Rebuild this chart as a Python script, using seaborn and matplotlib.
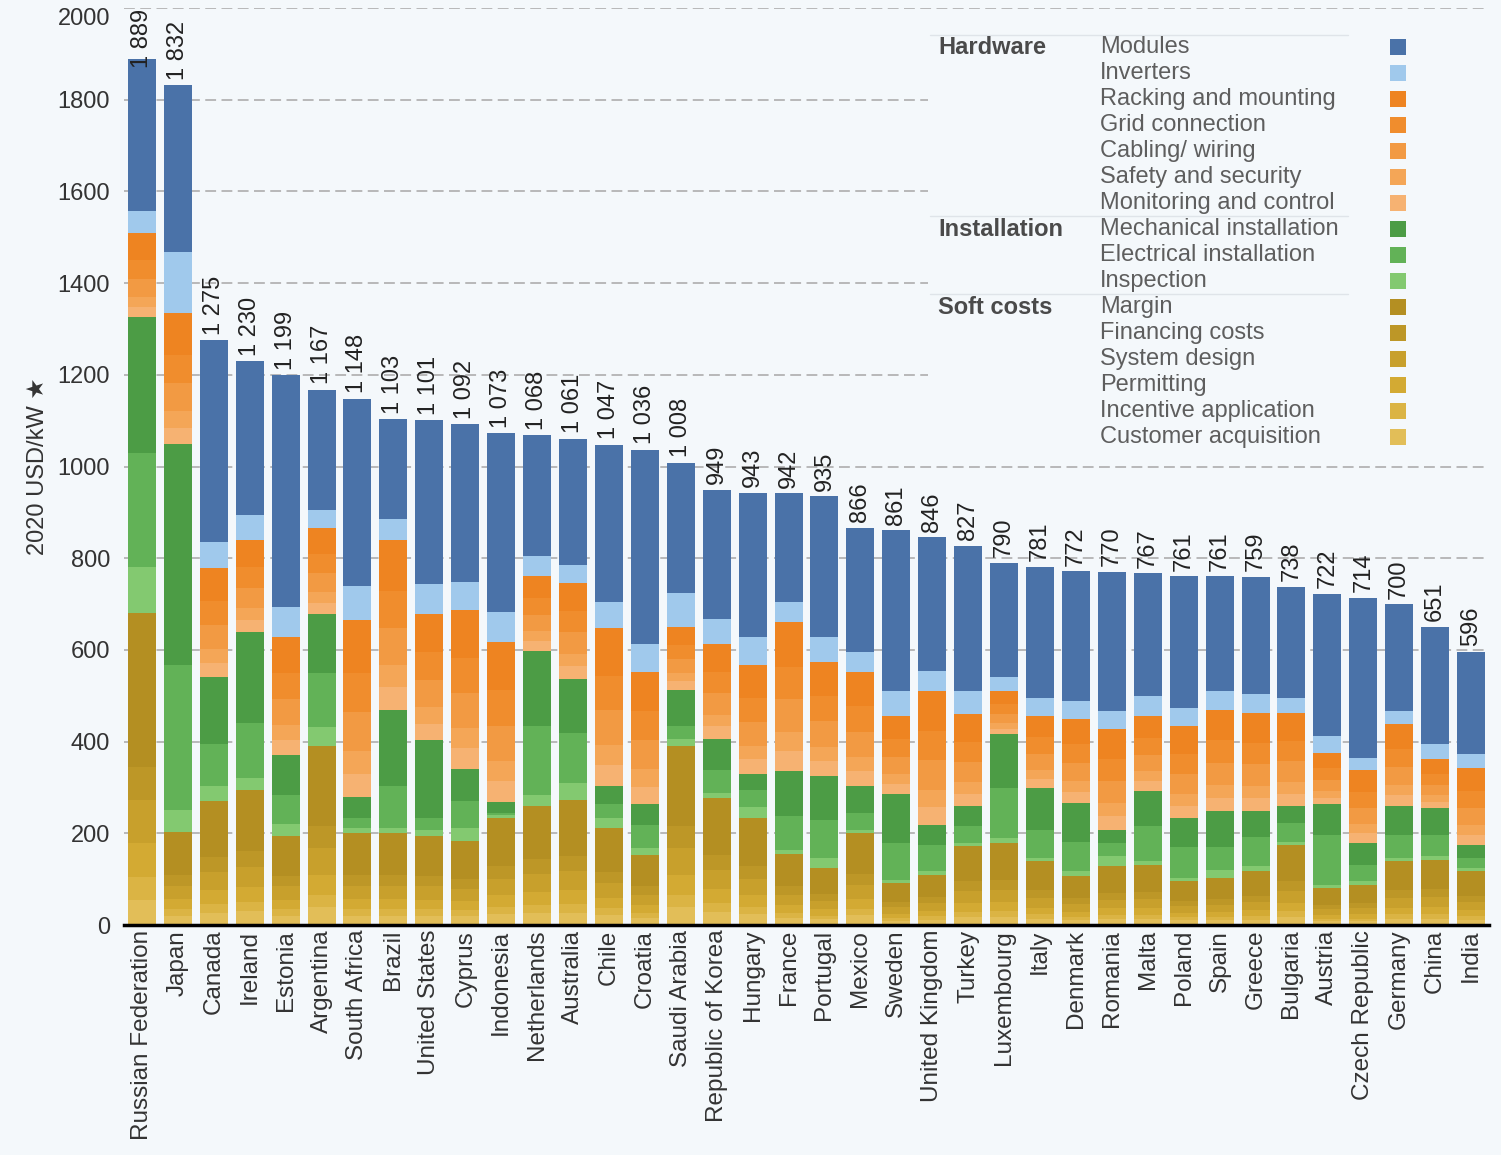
import numpy as np
import pandas as pd
import matplotlib
matplotlib.use("Agg")
import matplotlib.pyplot as plt
import seaborn as sns
from matplotlib.patches import Rectangle

countries = ["Russian Federation", "Japan", "Canada", "Ireland", "Estonia", "Argentina",
             "South Africa", "Brazil", "United States", "Cyprus", "Indonesia", "Netherlands",
             "Australia", "Chile", "Croatia", "Saudi Arabia", "Republic of Korea", "Hungary",
             "France", "Portugal", "Mexico", "Sweden", "United Kingdom", "Turkey", "Luxembourg",
             "Italy", "Denmark", "Romania", "Malta", "Poland", "Spain", "Greece", "Bulgaria",
             "Austria", "Czech Republic", "Germany", "China", "India"]

# hardware
modules = [332, 364, 439, 336, 505, 261, 408, 217, 357, 344, 391, 263, 276, 342, 423, 284, 282, 315,
           238, 307, 271, 350, 291, 316, 250, 285, 283, 303, 267, 287, 250, 256, 242, 310, 349, 233, 257, 224]
inverters = [47, 134, 58, 54, 66, 41, 75, 46, 66, 62, 65, 43, 38, 58, 61, 73, 54, 61,
             43, 55, 44, 55, 44, 51, 29, 40, 40, 40, 44, 40, 41, 40, 33, 36, 26, 29, 33, 29]
racking = [60, 90, 72, 60, 78, 56, 116, 111, 83, 104, 105, 49, 63, 103, 86, 41, 62, 72,
           98, 74, 74, 51, 88, 60, 29, 47, 55, 66, 49, 60, 67, 65, 61, 34, 48, 54, 32, 50]
grid_conn = [40, 62, 52, 44, 57, 41, 85, 81, 60, 76, 77, 36, 46, 76, 63, 30, 46, 52,
             71, 55, 55, 38, 64, 44, 21, 35, 40, 48, 36, 44, 49, 47, 45, 25, 35, 39, 23, 37]
cabling = [40, 62, 52, 44, 57, 41, 85, 81, 60, 76, 77, 36, 46, 76, 63, 30, 46, 52,
           71, 55, 55, 38, 64, 44, 21, 35, 40, 48, 36, 44, 49, 47, 45, 25, 35, 39, 23, 37]
safety = [22, 35, 30, 26, 33, 24, 50, 48, 36, 44, 45, 21, 28, 44, 38, 18, 26, 30,
          42, 32, 32, 22, 38, 26, 12, 20, 24, 28, 21, 26, 28, 28, 26, 14, 21, 23, 14, 22]
monitoring = [23, 35, 31, 26, 33, 25, 50, 49, 36, 45, 45, 22, 28, 45, 38, 19, 27, 31,
              43, 32, 32, 22, 38, 27, 12, 20, 24, 29, 22, 27, 29, 28, 27, 15, 21, 24, 14, 22]
# installation
mechanical = [295, 483, 146, 199, 87, 129, 46, 166, 170, 71, 23, 165, 118, 39, 46, 80, 69, 35,
              99, 95, 58, 106, 44, 44, 117, 91, 84, 29, 77, 62, 77, 55, 37, 66, 48, 62, 58, 29]
electrical = [250, 316, 91, 121, 63, 117, 21, 92, 25, 58, 6, 150, 108, 30, 49, 27, 50, 38,
              74, 84, 37, 80, 58, 36, 109, 62, 65, 29, 76, 69, 51, 65, 40, 109, 36, 51, 47, 22]
inspection = [100, 48, 34, 25, 25, 41, 12, 12, 13, 29, 5, 23, 38, 23, 16, 15, 9, 23,
              8, 22, 7, 8, 8, 7, 11, 7, 11, 22, 8, 7, 18, 11, 7, 8, 7, 7, 8, 7]
# soft costs
margin = [335, 95, 122, 133, 88, 176, 90, 90, 88, 82, 105, 117, 122, 95, 69, 176, 125, 105,
          70, 56, 90, 41, 49, 77, 81, 63, 48, 58, 59, 43, 46, 53, 79, 36, 40, 63, 64, 53]
financing = [72, 22, 32, 35, 23, 47, 24, 24, 23, 22, 28, 31, 33, 25, 18, 47, 33, 28,
             19, 15, 24, 11, 13, 21, 21, 17, 13, 15, 16, 11, 12, 14, 21, 10, 11, 17, 17, 14]
system_design = [94, 30, 40, 44, 29, 59, 30, 30, 29, 27, 35, 39, 41, 32, 23, 59, 42, 35,
                 23, 19, 30, 14, 16, 26, 27, 21, 16, 19, 20, 14, 15, 18, 26, 12, 13, 21, 21, 18]
permitting = [74, 22, 30, 32, 21, 43, 22, 22, 21, 20, 26, 29, 30, 23, 17, 43, 31, 26,
              17, 14, 22, 10, 12, 19, 20, 15, 12, 14, 14, 10, 11, 13, 19, 9, 10, 15, 16, 13]
incentive = [50, 14, 19, 21, 14, 27, 14, 14, 14, 13, 16, 18, 19, 15, 11, 27, 19, 16,
             11, 8, 14, 6, 8, 12, 12, 10, 7, 9, 9, 7, 7, 8, 12, 5, 6, 10, 10, 8]
customer = [55, 20, 27, 30, 20, 39, 20, 20, 20, 19, 24, 26, 27, 21, 15, 39, 28, 24,
            15, 12, 21, 9, 11, 17, 18, 13, 10, 13, 13, 10, 11, 11, 18, 8, 8, 13, 14, 11]

# legend order (top to bottom of the stack)
components = [
    ("Modules", modules, "#4a72a8"),
    ("Inverters", inverters, "#a0c9ec"),
    ("Racking and mounting", racking, "#ee8421"),
    ("Grid connection", grid_conn, "#f08d2d"),
    ("Cabling/ wiring", cabling, "#f29a43"),
    ("Safety and security", safety, "#f4a657"),
    ("Monitoring and control", monitoring, "#f6b272"),
    ("Mechanical installation", mechanical, "#4c9c45"),
    ("Electrical installation", electrical, "#62b257"),
    ("Inspection", inspection, "#83c970"),
    ("Margin", margin, "#b48f22"),
    ("Financing costs", financing, "#bd9727"),
    ("System design", system_design, "#c8a02c"),
    ("Permitting", permitting, "#d3aa33"),
    ("Incentive application", incentive, "#dbb444"),
    ("Customer acquisition", customer, "#e2be58"),
]
groups = {"Hardware": 0, "Installation": 7, "Soft costs": 10}

df = pd.DataFrame({name: vals for name, vals, _ in components})
df.insert(0, "country", countries)
stack = [name for name, _, _ in components][::-1]  # bottom -> top
cum = df[stack].cumsum(axis=1)
cum["country"] = countries
totals = df[stack].sum(axis=1)

bg = "#f4f8fb"
sns.set_style("white")
plt.rcParams["font.family"] = ["Liberation Sans", "DejaVu Sans"]

W, H = 1501, 1155
fig = plt.figure(figsize=(W / 100, H / 100), dpi=100, facecolor=bg)
ax = fig.add_axes([124 / W, (H - 925) / H, 1365 / W, 917 / H])
ax.set_facecolor(bg)

colors = {name: c for name, _, c in components}
for name in stack[::-1]:
    sns.barplot(data=cum, x="country", y=name, color=colors[name], saturation=1,
                width=0.78, errorbar=None, ax=ax, linewidth=0, zorder=2)

for i, t in enumerate(totals):
    label = f"{t:,}".replace(",", " ")
    if t > 1850:
        # no room above the bar: hang the label from the top of the plot
        ax.text(i, 1998, label, rotation=90, ha="center", va="top",
                fontsize=17, color="#222222", zorder=5)
    else:
        ax.text(i, t + 12, label, rotation=90, ha="center", va="bottom",
                fontsize=17, color="#222222", zorder=5)

ax.set_ylim(0, 2000)
ax.set_xlim(-0.5, len(countries) - 0.5)
ax.set_yticks(np.arange(0, 2001, 200))
ax.yaxis.grid(True, linestyle=(0, (6, 3)), color="#b3b3b3", linewidth=1.3)
ax.set_axisbelow(True)
ax.tick_params(axis="both", length=0, labelsize=17, colors="#333333")
ax.tick_params(axis="y", pad=10)
ax.get_yticklabels()[-1].set_va("top")
ax.set_xticks(range(len(countries)))
ax.set_xticklabels(countries, rotation=90, fontsize=17.5, color="#333333")
ax.set_xlabel("")
ax.set_ylabel("2020 USD/kW \u2605", fontsize=17, color="#333333", labelpad=6)
for s in ["left", "top", "right"]:
    ax.spines[s].set_visible(False)
ax.spines["bottom"].set_color("black")
ax.spines["bottom"].set_linewidth(2.5)

# legend panel
def fx(px):
    return px / W

def fy(py):
    return 1 - py / H

ax.add_patch(Rectangle((fx(928), fy(458)), fx(1492) - fx(928), fy(26) - fy(458),
                       transform=fig.transFigure, facecolor=bg, edgecolor="none",
                       zorder=3, clip_on=False))
for py in [35, 216, 294]:
    fig.add_artist(plt.Line2D([fx(930), fx(1348)], [fy(py), fy(py)], color="#dfe4e9",
                              linewidth=1, zorder=4))
row0, step = 47, 26
for k, (name, _, c) in enumerate(components):
    yy = row0 + k * step
    fig.text(fx(1100), fy(yy), name, fontsize=17, color="#5e5e5e", va="center", ha="left", zorder=5)
    fig.add_artist(Rectangle((fx(1390), fy(yy + 8)), 16 / W, 16 / H, transform=fig.transFigure,
                             facecolor=c, edgecolor="none", zorder=5))
for g, k in groups.items():
    fig.text(fx(938), fy(row0 + k * step), g, fontsize=17, fontweight="bold", color="#4a4a4a",
             va="center", ha="left", zorder=5)

fig.savefig("out.png", dpi=100, facecolor=bg)
